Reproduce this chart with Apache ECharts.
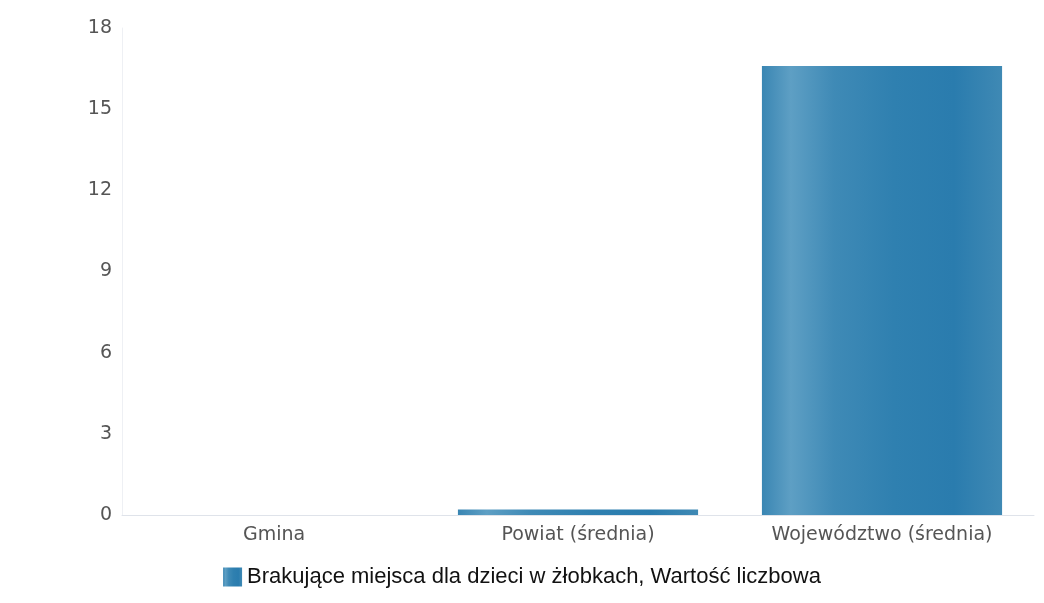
<!DOCTYPE html>
<html><head><meta charset="utf-8">
<script src="https://cdn.jsdelivr.net/npm/echarts@6/dist/echarts.min.js"></script>
<style>html,body{margin:0;padding:0;background:#fff}#c{width:1044px;height:603px}</style>
</head><body><div id="c"></div>
<script>
const categories = ['Gmina', 'Powiat (średnia)', 'Województwo (średnia)'];
const values = [0, 0.2, 16.6];
const seriesName = 'Brakujące miejsca dla dzieci w żłobkach, Wartość liczbowa';
const yTicks = [0, 3, 6, 9, 12, 15, 18];

const barGrad = new echarts.graphic.LinearGradient(0, 0, 1, 0, [
  {offset: 0, color: '#3a86b3'},
  {offset: 0.12, color: '#5e9fc4'},
  {offset: 0.3, color: '#3f8ab6'},
  {offset: 0.55, color: '#2f80b0'},
  {offset: 0.8, color: '#2a7cae'},
  {offset: 1, color: '#3f89b4'}
]);
const chart = echarts.init(document.getElementById('c'));
chart.setOption({
  animation: false,
  grid: {left: 122, right: 10, top: 28, bottom: 88},
  legend: {
    data: [{name: seriesName, icon: 'rect'}],
    bottom: 10, left: 'center',
    itemWidth: 19, itemHeight: 19, itemGap: 8,
    textStyle: {fontFamily: 'Liberation Sans', fontSize: 22, color: '#111'}
  },
  xAxis: {
    type: 'category', data: categories,
    axisLine: {lineStyle: {color: '#dfe3ea'}},
    axisTick: {show: false},
    axisLabel: {fontFamily: 'DejaVu Sans', fontSize: 19, color: '#555', margin: 11}
  },
  yAxis: {
    type: 'value', min: 0, max: 18, interval: 3,
    axisLine: {show: true, lineStyle: {color: '#eef0f4'}},
    axisTick: {show: false},
    splitLine: {show: false},
    axisLabel: {fontFamily: 'DejaVu Sans', fontSize: 19, color: '#555', margin: 10}
  },
  series: [{
    name: seriesName, type: 'bar', data: values,
    barCategoryGap: '21%',
    itemStyle: {color: barGrad}
  }]
});
</script></body></html>
